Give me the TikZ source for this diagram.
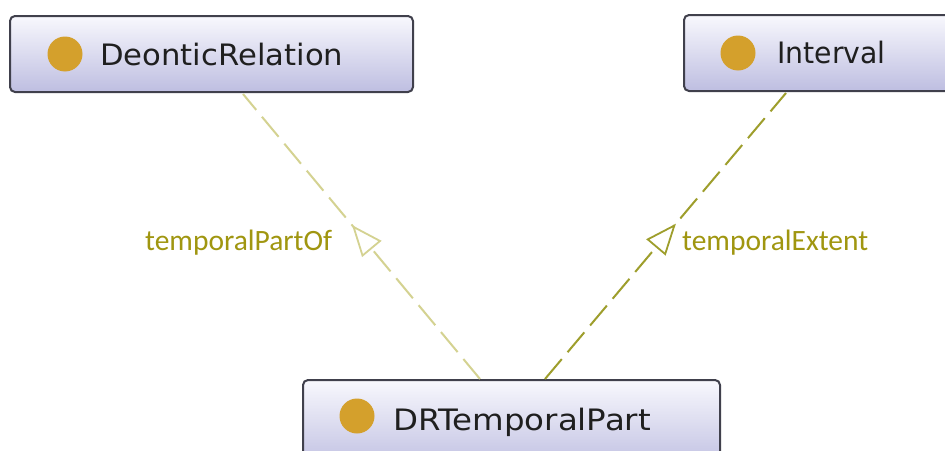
\documentclass[tikz,border=0pt]{standalone}
\usepackage{fontspec}
\usepackage{graphicx}
\newfontfamily\boxfont{DejaVu Sans}
\newfontfamily\labfont{Carlito}
\usetikzlibrary{arrows.meta,decorations.markings,calc}
\definecolor{boxtop}{RGB}{248,248,253}
\definecolor{boxbot}{RGB}{190,190,225}
\definecolor{boxline}{RGB}{64,64,76}
\definecolor{dotcol}{RGB}{212,160,44}
\definecolor{labcol}{RGB}{160,150,16}
\definecolor{lineA}{RGB}{212,210,145}
\definecolor{lineB}{RGB}{158,158,44}
\tikzset{
  classbox/.style={draw=boxline, line width=2pt, rounded corners=5pt,
    top color=boxtop, bottom color=boxbot, rectangle, inner sep=0pt},
  dot/.style={circle, fill=dotcol, minimum size=35pt, inner sep=0pt},
  boxtext/.style={anchor=base west, inner sep=0pt, font=\boxfont\fontsize{29.5}{34}\selectfont, text=black!88},
  labtext/.style={anchor=base west, inner sep=0pt, font=\labfont\fontsize{29.5}{34}\selectfont, text=labcol},
  rel/.style={line width=2pt, dash pattern=on 26pt off 9pt},
  midarrow/.style={postaction={decorate}, decoration={markings,
    mark=at position #1 with {\arrow[line width=1.8pt, solid]{Triangle[open, fill=white, length=31pt, width=25pt]}}}}
}
\begin{document}
\begin{tikzpicture}[x=1pt,y=-1pt]
\useasboundingbox (0,0) rectangle (945,450);
\clip (0,0) rectangle (945,450);
\fill[white] (0,0) rectangle (945,450);
% boxes
\node[classbox, minimum width=403pt, minimum height=76pt] (dr) at (211.5,54) {};
\node[classbox, minimum width=270pt, minimum height=76pt] (iv) at (819,53) {};
\node[classbox, minimum width=417pt, minimum height=90pt] (dt) at (511.5,425) {};
% dots
\node[dot] (drdot) at (65,54) {};
\node[dot] (ivdot) at (738,53) {};
\node[dot] (dtdot) at (357,416) {};
% texts
\node[boxtext] (drt) at (100,65) {\scalebox{1.04}[1]{DeonticRelation}};
\node[boxtext] (ivt) at (777,63) {\scalebox{0.96}[1]{Interval}};
\node[boxtext] (dtt) at (393,430) {\scalebox{1.1}[1]{DRTemporalPart}};
% connectors
\draw[rel, draw=lineA, midarrow=0.54] ([xshift=-31.5pt]dt.north) -- ([xshift=31.5pt,yshift=-1pt]dr.south);
\draw[rel, draw=lineB, midarrow=0.543] ([xshift=33.5pt]dt.north) -- ([xshift=-33pt,yshift=-1pt]iv.south);
% labels
\node[labtext] (l1) at (145,250) {temporalPartOf};
\node[labtext] (l2) at (682,250) {temporalExtent};
\end{tikzpicture}
\end{document}
